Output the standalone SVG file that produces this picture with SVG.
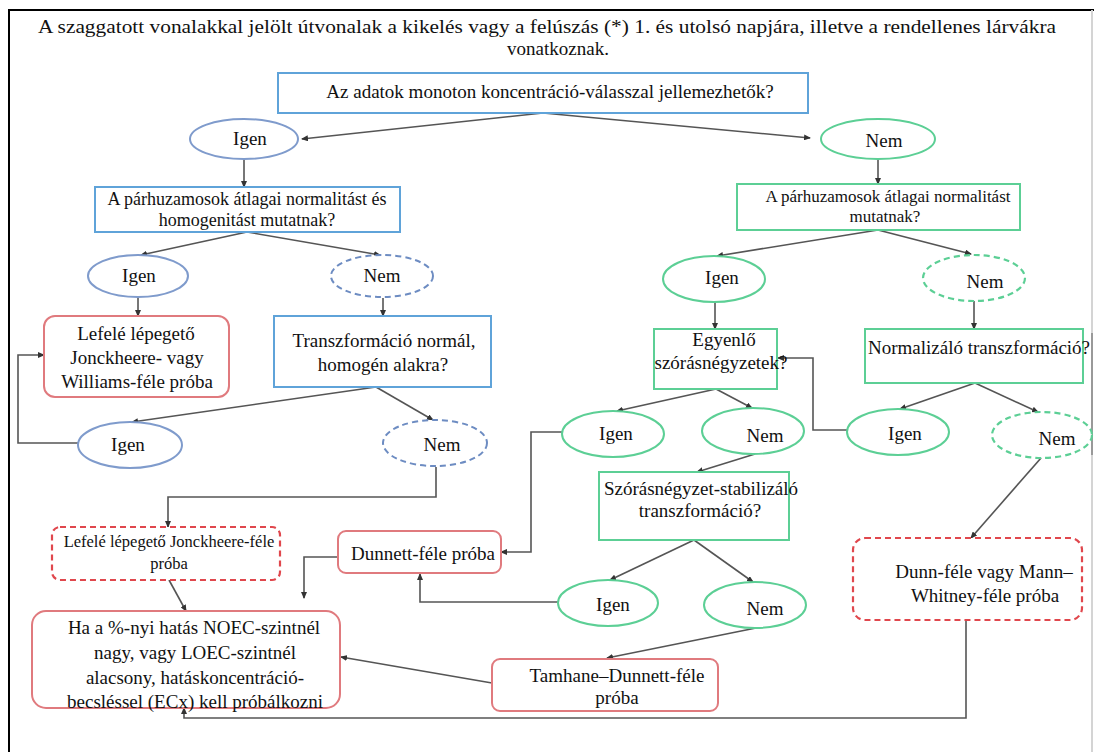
<svg xmlns="http://www.w3.org/2000/svg" width="1094" height="752" viewBox="0 0 1094 752">
<defs>
<marker id="ah" markerUnits="userSpaceOnUse" markerWidth="7" markerHeight="6" refX="6" refY="3" orient="auto">
<path d="M0,0 L7,3 L0,6 z" fill="#333"/>
</marker>
<style>
text{fill:#111;text-anchor:middle}
.bbox{fill:#fff;stroke:#5fa3d9;stroke-width:2}
.bell{fill:#fff;stroke:#7f9bcc;stroke-width:2}
.bdash{fill:#fff;stroke:#6d8cc2;stroke-width:2;stroke-dasharray:6 4}
.gbox{fill:#fff;stroke:#5ccf95;stroke-width:2}
.gell{fill:#fff;stroke:#5ccf95;stroke-width:2}
.gdash{fill:#fff;stroke:#5ccf95;stroke-width:2.2;stroke-dasharray:6 4}
.rbox{fill:#fff;stroke:#e07a7e;stroke-width:2}
.rdash{fill:#fff;stroke:#e0474d;stroke-width:2.2;stroke-dasharray:6 4}
.conn path{fill:none;stroke:#555;stroke-width:1.6;marker-end:url(#ah)}
</style>
</defs>
<rect x="0" y="0" width="1094" height="752" fill="#fff"/>
<path d="M9,752 L9,10 L1094,10" fill="none" stroke="#000" stroke-width="2"/>
<line x1="1092" y1="10" x2="1092" y2="752" stroke="#d4d4d4" stroke-width="2"/>
<line x1="1092" y1="333" x2="1092" y2="455" stroke="#999" stroke-width="2"/>

<g id="title">
<text x="547" y="33" font-family="Liberation Serif" font-size="19" textLength="1018" lengthAdjust="spacingAndGlyphs">A szaggatott vonalakkal jelölt útvonalak a kikelés vagy a felúszás (*) 1. és utolsó napjára, illetve a rendellenes lárvákra</text>
<text x="558" y="55" font-family="Liberation Serif" font-size="19">vonatkoznak.</text>
</g>

<g class="conn" id="connectors">
<path d="M543,113 L302,139"/>
<path d="M543,113 L810,138"/>
<path d="M244,159 L244,187"/>
<path d="M878,159 L878,184"/>
<path d="M247,232 L141,255"/>
<path d="M247,232 L380,255"/>
<path d="M138,297 L138,316"/>
<path d="M383,298 L383,316"/>
<path d="M376,387 L132,422"/>
<path d="M376,387 L433,420"/>
<path d="M78,443 L18,443 L18,355 L44,355"/>
<path d="M436,467 L436,497 L168,497 L168,527"/>
<path d="M169,580 L186,611"/>
<path d="M878,230 L717,256"/>
<path d="M878,230 L971,254"/>
<path d="M715,302 L715,329"/>
<path d="M974,301 L974,329"/>
<path d="M716,389 L617,411"/>
<path d="M716,389 L752,408"/>
<path d="M975,383 L900,409"/>
<path d="M975,383 L1038,412"/>
<path d="M848,430 L813,430 L813,358 L778,358"/>
<path d="M755,454 L697,472"/>
<path d="M562,432 L531,432 L531,552 L501,552"/>
<path d="M338,557 L304,557 L304,598"/>
<path d="M694,540 L610,580"/>
<path d="M694,540 L753,582"/>
<path d="M558,602 L420,602 L420,574"/>
<path d="M756,628 L607,658"/>
<path d="M492,683 L341,657"/>
<path d="M1041,458 L971,538"/>
<path d="M966,620 L966,718 L184,718 L184,708"/>
</g>

<g id="n-top">
<rect class="bbox" x="278" y="73" width="530" height="40"/>
<text x="550" y="98" font-family="Liberation Serif" font-size="19">Az adatok monoton koncentráció-válasszal jellemezhetők?</text>
</g>
<g id="n-igen1">
<ellipse class="bell" cx="244" cy="139" rx="54" ry="20"/>
<text x="250" y="145" font-family="Liberation Serif" font-size="19">Igen</text>
</g>
<g id="n-nem1">
<ellipse class="gell" cx="878" cy="139" rx="57" ry="20"/>
<text x="884" y="147" font-family="Liberation Serif" font-size="19">Nem</text>
</g>
<g id="n-L1">
<rect class="bbox" x="95" y="187" width="305" height="45"/>
<text x="247" y="205" font-family="Liberation Serif" font-size="18">A párhuzamosok átlagai normalitást és</text>
<text x="247" y="226" font-family="Liberation Serif" font-size="18">homogenitást mutatnak?</text>
</g>
<g id="n-R1">
<rect class="gbox" x="737" y="184" width="283" height="46"/>
<text x="888" y="202" font-family="Liberation Serif" font-size="17">A párhuzamosok átlagai normalitást</text>
<text x="885" y="222" font-family="Liberation Serif" font-size="17">mutatnak?</text>
</g>
<g id="n-igenL2">
<ellipse class="bell" cx="138" cy="276" rx="50" ry="21"/>
<text x="139" y="282" font-family="Liberation Serif" font-size="19">Igen</text>
</g>
<g id="n-nemL2">
<ellipse class="bdash" cx="382" cy="276" rx="51" ry="21"/>
<text x="382" y="282" font-family="Liberation Serif" font-size="19">Nem</text>
</g>
<g id="n-jw">
<rect class="rbox" x="44" y="316" width="185" height="81" rx="11"/>
<text x="136" y="340" font-family="Liberation Serif" font-size="19">Lefelé lépegető</text>
<text x="137" y="364" font-family="Liberation Serif" font-size="19">Jonckheere- vagy</text>
<text x="137" y="388" font-family="Liberation Serif" font-size="19">Williams-féle próba</text>
</g>
<g id="n-transz">
<rect class="bbox" x="274" y="316" width="217" height="71"/>
<text x="384" y="347" font-family="Liberation Serif" font-size="19">Transzformáció normál,</text>
<text x="383" y="371" font-family="Liberation Serif" font-size="19">homogén alakra?</text>
</g>
<g id="n-igenL3">
<ellipse class="bell" cx="130" cy="445" rx="52" ry="23"/>
<text x="128" y="451" font-family="Liberation Serif" font-size="19">Igen</text>
</g>
<g id="n-nemL3">
<ellipse class="bdash" cx="435" cy="443" rx="52" ry="23"/>
<text x="442" y="451" font-family="Liberation Serif" font-size="19">Nem</text>
</g>
<g id="n-jonck">
<rect class="rdash" x="52" y="527" width="228" height="53" rx="8"/>
<text x="169" y="547" font-family="Liberation Serif" font-size="16.5">Lefelé lépegető Jonckheere-féle</text>
<text x="169" y="569" font-family="Liberation Serif" font-size="16.5">próba</text>
</g>
<g id="n-noec">
<rect class="rbox" x="32" y="611" width="308" height="97" rx="14"/>
<text x="194" y="634" font-family="Liberation Serif" font-size="19">Ha a %-nyi hatás NOEC-szintnél</text>
<text x="195" y="659" font-family="Liberation Serif" font-size="19">nagy, vagy LOEC-szintnél</text>
<text x="195" y="684" font-family="Liberation Serif" font-size="19">alacsony, hatáskoncentráció-</text>
<text x="195" y="708" font-family="Liberation Serif" font-size="19">becsléssel (ECx) kell próbálkozni</text>
</g>
<g id="n-igenR2">
<ellipse class="gell" cx="714" cy="279" rx="51" ry="23"/>
<text x="722" y="284" font-family="Liberation Serif" font-size="19">Igen</text>
</g>
<g id="n-nemR2">
<ellipse class="gdash" cx="974" cy="278" rx="51" ry="23"/>
<text x="985" y="288" font-family="Liberation Serif" font-size="19">Nem</text>
</g>
<g id="n-egyenlo">
<rect class="gbox" x="654" y="329" width="123" height="60"/>
<text x="724" y="346" font-family="Liberation Serif" font-size="19">Egyenlő</text>
<text x="721" y="369" font-family="Liberation Serif" font-size="19">szórásnégyzetek?</text>
</g>
<g id="n-normal">
<rect class="gbox" x="865" y="329" width="218" height="54"/>
<text x="979" y="354" font-family="Liberation Serif" font-size="19">Normalizáló transzformáció?</text>
</g>
<g id="n-igenR3">
<ellipse class="gell" cx="613" cy="434" rx="51" ry="23"/>
<text x="616" y="440" font-family="Liberation Serif" font-size="19">Igen</text>
</g>
<g id="n-nemR3">
<ellipse class="gell" cx="753" cy="431" rx="51" ry="23"/>
<text x="765" y="442" font-family="Liberation Serif" font-size="19">Nem</text>
</g>
<g id="n-igenR4">
<ellipse class="gell" cx="898" cy="432" rx="51" ry="23"/>
<text x="905" y="440" font-family="Liberation Serif" font-size="19">Igen</text>
</g>
<g id="n-nemR4">
<ellipse class="gdash" cx="1042" cy="435" rx="50" ry="23"/>
<text x="1057" y="445" font-family="Liberation Serif" font-size="19">Nem</text>
</g>
<g id="n-stab">
<rect class="gbox" x="599" y="472" width="190" height="68"/>
<text x="701" y="495" font-family="Liberation Serif" font-size="19">Szórásnégyzet-stabilizáló</text>
<text x="700" y="517" font-family="Liberation Serif" font-size="19">transzformáció?</text>
</g>
<g id="n-dunnett">
<rect class="rbox" x="338" y="531" width="163" height="42" rx="8"/>
<text x="423" y="560" font-family="Liberation Serif" font-size="19">Dunnett-féle próba</text>
</g>
<g id="n-igenR5">
<ellipse class="gell" cx="608" cy="603" rx="50" ry="23"/>
<text x="613" y="611" font-family="Liberation Serif" font-size="19">Igen</text>
</g>
<g id="n-nemR5">
<ellipse class="gell" cx="755" cy="605" rx="51" ry="23"/>
<text x="765" y="615" font-family="Liberation Serif" font-size="19">Nem</text>
</g>
<g id="n-tamhane">
<rect class="rbox" x="492" y="659" width="226" height="52" rx="8"/>
<text x="617" y="682" font-family="Liberation Serif" font-size="19">Tamhane–Dunnett-féle</text>
<text x="617" y="704" font-family="Liberation Serif" font-size="19">próba</text>
</g>
<g id="n-dunn">
<rect class="rdash" x="853" y="538" width="229" height="82" rx="12"/>
<text x="984" y="578" font-family="Liberation Serif" font-size="19">Dunn-féle vagy Mann–</text>
<text x="985" y="602" font-family="Liberation Serif" font-size="19">Whitney-féle próba</text>
</g>
</svg>
